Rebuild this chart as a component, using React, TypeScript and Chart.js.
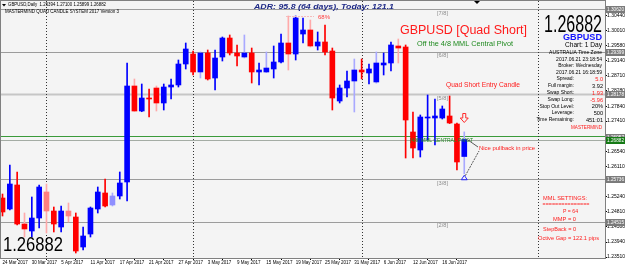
import React, { useEffect, useRef } from 'react';
import { Chart, registerables } from 'chart.js';

Chart.register(...registerables);

const FONT = '"Liberation Sans", Arial, sans-serif';

const dates = [
  '24 Mar 2017', '27 Mar 2017', '28 Mar 2017', '29 Mar 2017', '30 Mar 2017', '31 Mar 2017',
  '3 Apr 2017', '4 Apr 2017', '5 Apr 2017', '6 Apr 2017', '7 Apr 2017',
  '10 Apr 2017', '11 Apr 2017', '12 Apr 2017', '13 Apr 2017', '14 Apr 2017',
  '17 Apr 2017', '18 Apr 2017', '19 Apr 2017', '20 Apr 2017', '21 Apr 2017',
  '24 Apr 2017', '25 Apr 2017', '26 Apr 2017', '27 Apr 2017', '28 Apr 2017',
  '1 May 2017', '2 May 2017', '3 May 2017', '4 May 2017', '5 May 2017',
  '8 May 2017', '9 May 2017', '10 May 2017', '11 May 2017', '12 May 2017',
  '15 May 2017', '16 May 2017', '17 May 2017', '18 May 2017', '19 May 2017',
  '22 May 2017', '23 May 2017', '24 May 2017', '25 May 2017', '26 May 2017',
  '29 May 2017', '30 May 2017', '31 May 2017', '1 Jun 2017', '2 Jun 2017',
  '5 Jun 2017', '6 Jun 2017', '7 Jun 2017', '8 Jun 2017', '9 Jun 2017',
  '12 Jun 2017', '13 Jun 2017', '14 Jun 2017', '15 Jun 2017', '16 Jun 2017',
  '19 Jun 2017', '20 Jun 2017', '21 Jun 2017',
];

const open = [
  1.25203, 1.24888, 1.25577, 1.24457, 1.24256, 1.24629, 1.25376, 1.24830, 1.24371, 1.24830,
  1.24658, 1.23797, 1.24170, 1.24888, 1.25347, 1.25003, 1.25261, 1.25663, 1.28418, 1.27700,
  1.28073, 1.28360, 1.27930, 1.28389, 1.28447, 1.29049, 1.29336, 1.28820, 1.29365, 1.28647,
  1.29250, 1.29795, 1.29365, 1.29250, 1.29365, 1.28820, 1.28820, 1.28906, 1.29107, 1.29652,
  1.29336, 1.29910, 1.30025, 1.29566, 1.29681, 1.29422, 1.27987, 1.28360, 1.28561, 1.28877,
  1.28791, 1.28533, 1.29021, 1.29078, 1.29566, 1.29537, 1.27098, 1.26581, 1.27499, 1.27499,
  1.27499, 1.27557, 1.27327, 1.26394,
];
const high = [
  1.25318, 1.26151, 1.25950, 1.24773, 1.25232, 1.25577, 1.25605, 1.24945, 1.24974, 1.25060,
  1.24773, 1.24371, 1.24945, 1.25519, 1.25749, 1.25347, 1.25950, 1.29078, 1.28619, 1.28475,
  1.28332, 1.28418, 1.28475, 1.28619, 1.29164, 1.29652, 1.29422, 1.29394, 1.29451, 1.29451,
  1.29824, 1.29882, 1.29595, 1.29882, 1.29508, 1.29078, 1.29394, 1.29566, 1.29910, 1.30427,
  1.30427, 1.30369, 1.30312, 1.29968, 1.30169, 1.29508, 1.28447, 1.28848, 1.29193, 1.29193,
  1.29049, 1.29394, 1.29365, 1.29681, 1.29767, 1.29595, 1.27672, 1.27586, 1.28160, 1.28045,
  1.27844, 1.28131, 1.27356, 1.27100,
];
const low = [
  1.24687, 1.24859, 1.24429, 1.24084, 1.24084, 1.24342, 1.24199, 1.24228, 1.24228, 1.24515,
  1.23625, 1.23711, 1.24084, 1.24773, 1.24945, 1.24974, 1.25175, 1.25117, 1.27690, 1.27680,
  1.27528, 1.27700, 1.27729, 1.28045, 1.28389, 1.28906, 1.28734, 1.28647, 1.28590, 1.28303,
  1.29135, 1.29308, 1.28992, 1.29221, 1.28504, 1.28447, 1.28800, 1.28647, 1.29078, 1.28877,
  1.29164, 1.29652, 1.29537, 1.29451, 1.29308, 1.27729, 1.27930, 1.28102, 1.27672, 1.28619,
  1.28475, 1.28500, 1.28734, 1.28848, 1.29078, 1.26351, 1.26351, 1.26380, 1.26868, 1.26725,
  1.27470, 1.27340, 1.26007, 1.25899,
];
const close = [
  1.24802, 1.25605, 1.24457, 1.24314, 1.24629, 1.25519, 1.24830, 1.24457, 1.24830, 1.24687,
  1.23682, 1.24113, 1.24916, 1.25376, 1.24974, 1.25261, 1.25634, 1.28418, 1.27700, 1.28073,
  1.28045, 1.27930, 1.28389, 1.28447, 1.29049, 1.29480, 1.28820, 1.29365, 1.28619, 1.29221,
  1.29795, 1.29365, 1.29279, 1.29365, 1.28820, 1.28877, 1.28934, 1.29107, 1.29652, 1.29336,
  1.30369, 1.30025, 1.29566, 1.29681, 1.29394, 1.28073, 1.28360, 1.28561, 1.28877, 1.28820,
  1.28906, 1.29078, 1.29078, 1.29595, 1.29508, 1.27442, 1.26638, 1.27528, 1.27528, 1.27557,
  1.27758, 1.27356, 1.26237, 1.26882,
];

const lightBody = [6, 9, 15];
const lightWick = [3, 6, 9, 15, 18, 21, 27, 33, 36, 39, 42, 48, 51, 54, 63];

const dateTickIdx = [0, 4, 8, 12, 16, 20, 24, 28, 32, 36, 40, 44, 48, 52, 56, 60];
const priceTicks = [
  1.2351, 1.2394, 1.2438, 1.2481, 1.2524, 1.2568, 1.2611, 1.2654, 1.2697,
  1.2741, 1.2784, 1.2828, 1.2871, 1.2914, 1.2958, 1.3001, 1.3044,
];
const mmlLevels = [1.24515, 1.25736, 1.26957, 1.28178, 1.29399, 1.3062];
const mmlNames = ['[2/8]', '[3/8]', '[4/8] MML CENTRAL PIVOT', '[5/8]', '[6/8]', '[7/8]'];
const monthStarts = [6, 26, 49, 73];
const bidPrice = 1.26882;
const lastIdx = 63;

const headerText = 'GBPUSD,Daily  1.26394 1.27100 1.25899 1.26882';
const systemText = 'MASTERMIND QUAD CANDLE SYSTEM 2017 Version 3';
const adrText = 'ADR: 95.8 (64 days), Today: 121.1';
const infoTop = ['AUSTRALIA Time Zone', '2017.06.21 23:18:54', 'Broker: Wednesday', '2017.06.21 16:18:59'];
const infoLabels = ['Spread:', 'Full margin:', 'Swap Short:', 'Swap Long:', 'Stop Out Level:', 'Leverage:', 'Time Remaining:'];
const infoValues = ['5.0', '3.92', '1.93', '-5.96', '20%', '500', '451:01'];
const infoValueRed = [true, false, true, true, false, false, false];
const mmlSettings = ['MML SETTINGS:', '===============', 'P = 64', 'MMP = 0', 'StepBack = 0', 'Octive Gap = 122.1 pips'];

type TOpt = { align?: 'left' | 'right' | 'center'; width?: number; bold?: boolean; italic?: boolean };

function drawText(ctx: CanvasRenderingContext2D, s: string, x: number, y: number, size: number, color: string, o: TOpt = {}) {
  ctx.save();
  ctx.font = `${o.italic ? 'italic ' : ''}${o.bold ? 'bold ' : ''}${size}px ${FONT}`;
  ctx.fillStyle = color;
  ctx.textBaseline = 'middle';
  ctx.textAlign = 'left';
  const w = ctx.measureText(s).width;
  const sx = o.width ? o.width / w : 1;
  const tw = w * sx;
  const left = o.align === 'right' ? x - tw : o.align === 'center' ? x - tw / 2 : x;
  ctx.translate(left, y);
  ctx.scale(sx, 1);
  ctx.fillText(s, 0, 0);
  ctx.restore();
}

function line(ctx: CanvasRenderingContext2D, x1: number, y1: number, x2: number, y2: number, color: string, w = 1, dash: number[] = []) {
  ctx.save();
  ctx.strokeStyle = color;
  ctx.lineWidth = w;
  ctx.setLineDash(dash);
  ctx.beginPath();
  ctx.moveTo(x1, y1);
  ctx.lineTo(x2, y2);
  ctx.stroke();
  ctx.restore();
}

export default function App() {
  const ref = useRef<HTMLCanvasElement>(null);

  useEffect(() => {
    const canvas = ref.current!;
    const idx = dates.map((_, i) => i);
    const bull = idx.map((i) => close[i] >= open[i]);
    const bodyColors = idx.map((i) =>
      lightBody.includes(i) ? (bull[i] ? '#8f8fff' : '#ff7f7f') : bull[i] ? '#0000ff' : '#ff0000'
    );
    const wickColors = idx.map((i) =>
      lightWick.includes(i) ? (bull[i] ? '#a9a9ff' : '#ffaaaa') : bull[i] ? '#0000ff' : '#ff0000'
    );

    const deco = {
      id: 'deco',
      beforeDraw(chart: any) {
        const { ctx, chartArea: ca, width, height } = chart;
        ctx.save();
        ctx.fillStyle = '#ffffff';
        ctx.fillRect(0, 0, width, height);
        ctx.fillStyle = '#f4f4f4';
        ctx.fillRect(ca.left, ca.top, ca.right - ca.left, ca.bottom - ca.top);
        ctx.restore();
      },
      beforeDatasetsDraw(chart: any) {
        const { ctx, chartArea: ca } = chart;
        const xs = chart.scales.x;
        const ys = chart.scales.y;
        // MML levels
        mmlLevels.forEach((lv, i) => {
          const py = Math.round(ys.getPixelForValue(lv)) + 0.5;
          if (py < ca.top || py > ca.bottom) return;
          if (i === 2) line(ctx, ca.left, py - 1, ca.right, py - 1, '#3a9a3a', 1);
          else if (i === 3) line(ctx, ca.left, py, ca.right, py, '#c6c6c6', 2);
          else line(ctx, ca.left, py, ca.right, py, '#9c9c9c', 1);
        });
        // bid line
        const by = Math.round(ys.getPixelForValue(bidPrice)) + 0.5;
        line(ctx, ca.left, by, ca.right, by, '#a4aca4', 1);
        // month separators
        monthStarts.forEach((m) => {
          const px = Math.round(xs.getPixelForValue(m)) + 0.5;
          line(ctx, px, ca.top, px, ca.bottom, '#333333', 1, [1, 2]);
        });
      },
      afterDraw(chart: any) {
        const { ctx, chartArea: ca } = chart;
        const xs = chart.scales.x;
        const ys = chart.scales.y;
        // frame
        ctx.save();
        ctx.strokeStyle = '#808080';
        ctx.lineWidth = 1;
        ctx.strokeRect(ca.left - 0.5, ca.top - 0.5, ca.right - ca.left + 1, ca.bottom - ca.top + 1);
        ctx.restore();

        // header
        ctx.save();
        ctx.fillStyle = '#000';
        ctx.beginPath();
        ctx.moveTo(2, 4); ctx.lineTo(6, 4); ctx.lineTo(4, 6.5); ctx.closePath(); ctx.fill();
        ctx.beginPath();
        ctx.moveTo(474, 1); ctx.lineTo(480, 1); ctx.lineTo(477, 4); ctx.closePath(); ctx.fill();
        ctx.restore();
        drawText(ctx, headerText, 8, 5, 5, '#000', { width: 98 });
        drawText(ctx, systemText, 5, 11.5, 5, '#000', { width: 114 });
        drawText(ctx, adrText, 254, 7.5, 7, '#1f2a86', { bold: true, italic: true, width: 140 });

        // ADR projection and percentage
        line(ctx, 286, 16.5, 314, 16.5, '#f5bcbc', 1, [2, 1]);
        drawText(ctx, '68%', 318, 17, 6, '#ff3c3c', { width: 12 });

        // headline
        drawText(ctx, 'GBPUSD [Quad Short]', 400, 31, 12.5, '#ff1a1a', { width: 127 });
        drawText(ctx, 'Off the 4/8 MML Central Pivot', 417, 43.7, 7.3, '#1f8a1f', { width: 96 });

        // right panel
        drawText(ctx, '1.26882', 602, 26, 23, '#000', { align: 'right', width: 58 });
        drawText(ctx, 'GBPUSD', 602, 37.5, 9.5, '#1414ff', { align: 'right', bold: true, width: 39 });
        drawText(ctx, 'Chart: 1 Day', 602, 45, 6.5, '#000', { align: 'right', width: 37 });
        const topYs = [53, 59.5, 66, 72.5];
        infoTop.forEach((s, i) => drawText(ctx, s, 602, topYs[i], 5, '#000', { align: 'right' }));
        const rowYs = [79, 86, 93, 100, 106.5, 113, 120];
        infoLabels.forEach((s, i) => {
          drawText(ctx, s, 574, rowYs[i], 5, '#000', { align: 'right' });
          drawText(ctx, infoValues[i], 603, rowYs[i], 5.6, infoValueRed[i] ? '#ff1a1a' : '#000', { align: 'right' });
        });
        drawText(ctx, 'MASTERMIND', 602, 127.5, 4.6, '#ff1a1a', { align: 'right', width: 31 });

        // MML settings
        const msY = [198, 204, 211, 219, 229, 238];
        const msX = [565, 566, 570.5, 564.5, 559.5, 568.5];
        const msW = [44, 47, 15, 23, 33, 61];
        mmlSettings.forEach((s, i) =>
          drawText(ctx, s, msX[i], msY[i], 5.7, '#ff1a1a', { align: 'center', width: msW[i] })
        );

        // MML labels
        mmlLevels.forEach((lv, i) => {
          const py = ys.getPixelForValue(lv);
          if (py < ca.top || py > ca.bottom) return;
          if (i === 2) drawText(ctx, mmlNames[i], 410, py + 3.5, 4.6, '#1f8a1f', { width: 63 });
          else drawText(ctx, mmlNames[i], 437, py + 4, 4.6, '#8c8c8c', { width: 11 });
        });

        // annotations
        drawText(ctx, 'Quad Short Entry Candle', 446, 85, 6.6, '#ff1a1a', { width: 74 });
        drawText(ctx, 'Nice pullback in price', 479, 148.5, 6, '#ff1a1a', { width: 56 });

        const lx = xs.getPixelForValue(lastIdx);
        // red hollow down arrow
        ctx.save();
        ctx.strokeStyle = '#ff2a2a';
        ctx.lineWidth = 1;
        ctx.beginPath();
        ctx.moveTo(lx - 1.5, 113.5); ctx.lineTo(lx + 1.5, 113.5); ctx.lineTo(lx + 1.5, 118);
        ctx.lineTo(lx + 4, 118); ctx.lineTo(lx, 122.5); ctx.lineTo(lx - 4, 118); ctx.lineTo(lx - 1.5, 118);
        ctx.closePath();
        ctx.stroke();
        ctx.restore();
        // blue up triangle under last bar
        const ly = ys.getPixelForValue(low[lastIdx]);
        ctx.save();
        ctx.strokeStyle = '#2a2aff';
        ctx.lineWidth = 1;
        ctx.beginPath();
        ctx.moveTo(lx, ly + 1.5); ctx.lineTo(lx + 3, ly + 6); ctx.lineTo(lx - 3, ly + 6); ctx.closePath();
        ctx.stroke();
        ctx.restore();
        // pointer lines
        const cy = ys.getPixelForValue(close[lastIdx]);
        line(ctx, lx + 3, cy, 478, 147, '#333', 0.8);
        line(ctx, lx + 1, ly + 2, 479, 151, '#333', 0.8, [2, 1]);

        // axis boxes
        const box = (val: number, bg: string) => {
          const py = ys.getPixelForValue(val);
          if (py < 0 || py > 267) return;
          ctx.save();
          ctx.fillStyle = bg;
          ctx.fillRect(606, Math.round(py) - 3, 19, 7);
          ctx.restore();
          drawText(ctx, val.toFixed(5), 607, Math.round(py) + 0.5, 5, '#ffffff', { width: 17 });
        };
        mmlLevels.forEach((lv) => box(lv, '#7b7b7b'));
        box(bidPrice, '#157a15');

        // big price bottom-left
        drawText(ctx, '1.26882', 3, 246, 19.5, '#000', { width: 60 });
      },
    };

    const chart = new Chart(canvas, {
      type: 'bar',
      data: {
        datasets: [
          {
            label: 'body',
            data: idx.map((i) => ({ x: i, y: [open[i], close[i]] })) as any,
            backgroundColor: bodyColors,
            borderWidth: 0,
            barThickness: 5,
            minBarLength: 1,
            grouped: false,
            order: 0,
          } as any,
          {
            label: 'wick',
            data: idx.map((i) => ({ x: i, y: [low[i], high[i]] })) as any,
            backgroundColor: wickColors,
            borderWidth: 0,
            barThickness: 1,
            grouped: false,
            order: 1,
          } as any,
        ],
      },
      options: {
        animation: false,
        responsive: false,
        devicePixelRatio: 1,
        layout: { padding: { left: 1, top: 1, right: 0, bottom: 0 } },
        plugins: { legend: { display: false }, tooltip: { enabled: false } },
        scales: {
          x: {
            type: 'linear',
            min: -0.205,
            max: 82.2,
            offset: false,
            border: { display: false },
            grid: { drawOnChartArea: false, drawTicks: true, tickLength: 2, color: '#000' },
            ticks: {
              font: { family: FONT, size: 4.5 },
              color: '#000',
              align: 'start',
              autoSkip: false,
              maxRotation: 0,
              minRotation: 0,
              padding: 0,
              callback: (v: any) => dates[Number(v)] ?? '',
            },
            afterBuildTicks: (s: any) => {
              s.ticks = dateTickIdx.map((v) => ({ value: v }));
            },
            afterFit: (s: any) => {
              s.height = 9;
              s.paddingLeft = 0;
              s.paddingRight = 0;
            },
          } as any,
          y: {
            type: 'linear',
            position: 'right',
            min: 1.234814,
            max: 1.308573,
            border: { display: false },
            grid: { drawOnChartArea: false, drawTicks: true, tickLength: 2, color: '#000' },
            ticks: {
              font: { family: FONT, size: 5 },
              color: '#000',
              padding: 0,
              autoSkip: false,
              callback: (v: any) => Number(v).toFixed(5),
            },
            afterBuildTicks: (s: any) => {
              s.ticks = priceTicks.map((v) => ({ value: v }));
            },
            afterFit: (s: any) => {
              s.width = 20;
              s.paddingTop = 0;
              s.paddingBottom = 0;
            },
          } as any,
        },
      },
      plugins: [deco],
    });
    return () => chart.destroy();
  }, []);

  return (
    <div style={{ position: 'fixed', left: 0, top: 0, width: 625, height: 267, background: '#fff' }}>
      <canvas ref={ref} width={625} height={267} style={{ display: 'block', width: 625, height: 267 }} />
    </div>
  );
}
